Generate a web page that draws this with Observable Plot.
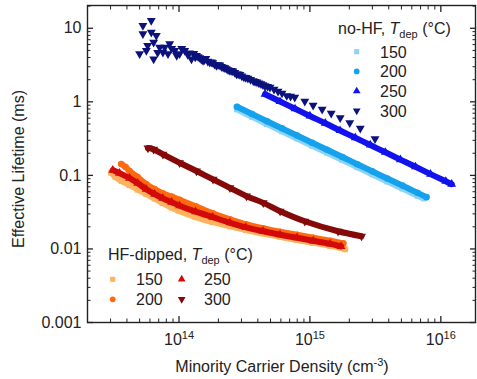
<!DOCTYPE html>
<html><head><meta charset="utf-8">
<script src="https://cdn.jsdelivr.net/npm/d3@7"></script>
<script src="https://cdn.jsdelivr.net/npm/@observablehq/plot@0.6"></script>
<style>
html,body{margin:0;padding:0;background:#fff;}
#chart svg{display:block;}
</style></head><body><div id="chart"></div>
<script>
// ---- ticks ----
const xMajor = [1e14, 1e15, 1e16];
const xDecades = [1e13, 1e14, 1e15];
const yMajor = [0.001, 0.01, 0.1, 1, 10];
const yDecades = [0.001, 0.01, 0.1, 1, 10];
const minorMult = [2, 3, 4, 5, 6, 7, 8, 9];

// ---- legend categories ----
const noHFTemps = ["150", "200", "250", "300"];
const hfTemps = ["150", "200", "250", "300"];
const noHFColors = ["#8DD3F8", "#14A2EC", "#1212EE", "#0B127C"];
const hfColors = ["#FFB35E", "#FF6A10", "#D40A0A", "#860909"];

// ---- series: [carrier density (cm^-3), effective lifetime (ms)] ----
const noHF150 = [[2.77e14,0.79],[3.61e14,0.625],[4.70e14,0.497],[6.12e14,0.397],[7.98e14,0.317],[1.04e15,0.253],[1.35e15,0.203],[1.77e15,0.162],[2.30e15,0.129],[3.00e15,0.103],[3.90e15,0.0825],[5.09e15,0.0661],[6.63e15,0.0527],[7.4e15,0.0487]];
const noHF200 = [[2.77e14,0.855],[3.61e14,0.684],[4.70e14,0.545],[6.12e14,0.436],[7.98e14,0.348],[1.04e15,0.278],[1.35e15,0.223],[1.77e15,0.178],[2.30e15,0.142],[3.00e15,0.1134],[3.90e15,0.0907],[5.09e15,0.0726],[6.63e15,0.0579],[7.77e15,0.0506]];
const noHF250 = [[4.54e14,1.27],[5.91e14,1.01],[7.70e14,0.805],[1.00e15,0.642],[1.31e15,0.512],[1.70e15,0.407],[2.22e15,0.325],[2.89e15,0.259],[3.77e15,0.206],[4.91e15,0.164],[6.40e15,0.131],[8.34e15,0.1041],[1.09e16,0.0831],[1.21e16,0.0759]];
const noHF300 = [[5.00e13,4.48],[5.30e13,10.89],[5.30e13,8.39],[5.63e13,4.96],[5.76e13,5.81],[6.14e13,12.74],[6.14e13,8.82],[6.40e13,6.44],[6.40e13,3.82],[6.71e13,7.95],[6.87e13,4.66],[7.11e13,5.51],[7.54e13,4.71],[7.77e13,5.51],[8.24e13,4.48],[8.49e13,6.13],[8.79e13,5.29],[9.27e13,4.96],[9.60e13,4.24],[1.01e14,4.48],[1.05e14,5.29],[1.106e14,4.96],[1.166e14,4.38],[1.20e14,4.62],[1.245e14,3.82],[1.296e14,4.52],[1.33e14,4.05],[1.359e14,4.24],[1.40e14,4.10],[1.441e14,3.98],[1.48e14,3.78],[1.527e14,3.63],[1.56e14,3.72],[1.602e14,3.86],[1.66e14,3.55],[1.719e14,3.44],[1.77e14,3.48],[1.813e14,3.40],[1.87e14,3.22],[1.935e14,3.10],[1.99e14,3.18],[2.051e14,3.15],[2.11e14,3.02],[2.174e14,2.94],[2.24e14,2.90],[2.300e14,2.82],[2.37e14,2.72],[2.446e14,2.65],[2.51e14,2.66],[2.579e14,2.61],[2.67e14,2.50],[2.754e14,2.39],[2.83e14,2.38],[2.919e14,2.34],[3.02e14,2.24],[3.132e14,2.16],[3.24e14,2.13],[3.361e14,2.09],[3.52e14,2.00],[3.690e14,1.93],[3.81e14,1.89],[3.939e14,1.85],[4.08e14,1.80],[4.228e14,1.76],[4.38e14,1.70],[4.537e14,1.65],[4.75e14,1.61],[4.955e14,1.57],[5.318e14,1.48],[5.706e14,1.39],[6.124e14,1.31],[6.653e14,1.21],[7.114e14,1.19],[7.661e14,1.15],[9.14e14,1.016],[1.058e15,0.896],[1.240e15,0.790],[1.454e15,0.697],[1.703e15,0.605],[2.015e15,0.517],[2.425e15,0.435],[3.143e15,0.313]];
const hf150 = [[3.03e13,0.1085],[3.27e13,0.0948],[3.64e13,0.0836],[4.19e13,0.0737],[4.83e13,0.0640],[5.62e13,0.0556],[6.51e13,0.0483],[7.50e13,0.0419],[8.79e13,0.0364],[1.01e14,0.0326],[1.34e14,0.0270],[1.81e14,0.0231],[2.45e14,0.0203],[3.24e14,0.0181],[4.38e14,0.0162],[5.91e14,0.0146],[7.98e14,0.0132],[1.06e15,0.0121],[1.43e15,0.0110],[1.86e15,0.0099]];
const hf200 = [[3.62e13,0.143],[3.91e13,0.130],[4.19e13,0.1145],[4.83e13,0.0948],[5.62e13,0.0761],[6.51e13,0.0650],[7.50e13,0.0573],[8.79e13,0.0514],[1.01e14,0.0467],[1.34e14,0.0381],[1.81e14,0.0306],[2.45e14,0.0253],[3.24e14,0.0217],[4.38e14,0.0191],[5.91e14,0.0171],[7.98e14,0.0156],[1.06e15,0.0142],[1.43e15,0.0129],[1.80e15,0.0119]];
const hf250 = [[3.12e13,0.118],[3.51e13,0.1075],[4.19e13,0.0919],[4.83e13,0.0785],[5.62e13,0.0650],[6.51e13,0.0556],[7.50e13,0.0490],[8.79e13,0.0432],[1.01e14,0.0387],[1.34e14,0.0321],[1.81e14,0.0270],[2.45e14,0.0227],[3.24e14,0.0197],[4.38e14,0.0174],[5.91e14,0.0156],[7.98e14,0.0142],[1.06e15,0.0129],[1.43e15,0.0117],[1.73e15,0.0108]];
const hf300 = [[5.79e13,0.235],[6.40e13,0.226],[7.54e13,0.193],[1.01e14,0.1485],[1.36e14,0.1145],[1.82e14,0.0882],[2.45e14,0.0677],[3.28e14,0.0522],[4.40e14,0.0423],[5.92e14,0.0326],[9.14e14,0.0238],[1.64e15,0.0174],[2.48e15,0.0149]];

// custom downward triangle
const sqrt3 = Math.sqrt(3);
const triangleDown = {
  draw(context, size) {
    const y = -Math.sqrt(size / (sqrt3 * 3));
    context.moveTo(0, -y * 2);
    context.lineTo(-sqrt3 * y, y);
    context.lineTo(sqrt3 * y, y);
    context.closePath();
  }
};
const symbols = ["square", "circle", "triangle", triangleDown];
const d3symbols = [d3.symbolSquare, d3.symbolCircle, d3.symbolTriangle, triangleDown];

const series = [
  {data: hf150, color: hfColors[0], symbol: symbols[0], line: true},
  {data: hf200, color: hfColors[1], symbol: symbols[1], line: true},
  {data: hf250, color: hfColors[2], symbol: symbols[2], line: true},
  {data: hf300, color: hfColors[3], symbol: symbols[3], line: true},
  {data: noHF150, color: noHFColors[0], symbol: symbols[0], line: true},
  {data: noHF200, color: noHFColors[1], symbol: symbols[1], line: true},
  {data: noHF250, color: noHFColors[2], symbol: symbols[2], line: true},
  {data: noHF300, color: noHFColors[3], symbol: symbols[3], line: false}
];

const xMinor = xDecades.flatMap(d => minorMult.map(m => d * m));
const yMinor = yDecades.flatMap(d => minorMult.map(m => d * m)).filter(v => v <= 20);

const ink = "#222";
const marks = [];
for (const s of series) {
  const rows = s.data.map(([N, tau]) => ({N, tau}));
  if (s.line) marks.push(Plot.line(rows, {x: "N", y: "tau", stroke: s.color, strokeWidth: 6, curve: "catmull-rom"}));
  marks.push(Plot.dot(rows, {x: "N", y: "tau", fill: s.color, symbol: s.symbol, r: 3.3}));
}

const chart = Plot.plot({
  width: 477, height: 379,
  marginLeft: 87, marginRight: 2, marginTop: 5, marginBottom: 57,
  x: {type: "log", domain: [2e13, 1.84e16]},
  y: {type: "log", domain: [0.001, 20.4]},
  style: {fontFamily: "'Liberation Sans', Arial, sans-serif", fontSize: "16px", color: ink, background: "#fff"},
  marks: [
    ...marks,
    Plot.frame({stroke: ink, strokeWidth: 1.4}),
    // bottom
    Plot.axisX({ticks: xMajor, tickSize: 0, tickPadding: 11, tickFormat: d => "10^" + Math.round(Math.log10(d)), label: null}),
    Plot.axisX({ticks: xMajor, tickSize: -6, fill: "none", label: null, stroke: ink, strokeWidth: 1.3}),
    Plot.axisX({ticks: xMinor, tickSize: -3.5, fill: "none", label: null, stroke: ink}),
    // top
    Plot.axisX({anchor: "top", ticks: xMajor, tickSize: -6, fill: "none", label: null, stroke: ink, strokeWidth: 1.3}),
    Plot.axisX({anchor: "top", ticks: xMinor, tickSize: -3.5, fill: "none", label: null, stroke: ink}),
    // left
    Plot.axisY({ticks: yMajor, tickSize: 0, tickPadding: 6, tickFormat: d => String(d), label: null}),
    Plot.axisY({ticks: yMajor, tickSize: -6, fill: "none", label: null, stroke: ink, strokeWidth: 1.3}),
    Plot.axisY({ticks: yMinor, tickSize: -3.5, fill: "none", label: null, stroke: ink}),
    // right
    Plot.axisY({anchor: "right", ticks: yMajor, tickSize: -6, fill: "none", label: null, stroke: ink, strokeWidth: 1.3}),
    Plot.axisY({anchor: "right", ticks: yMinor, tickSize: -3.5, fill: "none", label: null, stroke: ink})
  ]
});
document.getElementById("chart").appendChild(chart);

const svg = d3.select(chart);
// superscript exponents on x tick labels
svg.selectAll('g[aria-label="x-axis tick label"] text').each(function() {
  const parts = this.textContent.split("^");
  if (parts.length !== 2) return;
  const sel = d3.select(this);
  sel.text(parts[0]);
  sel.append("tspan").attr("dy", "-0.5em").attr("font-size", "11px").text(parts[1]);
});

const g = svg.append("g").attr("fill", ink).attr("font-size", 16).attr("text-anchor", "start")
  .attr("font-family", "'Liberation Sans', Arial, sans-serif");

// axis titles
g.append("text").attr("transform", "translate(24,169) rotate(-90)").attr("text-anchor", "middle")
  .text("Effective Lifetime (ms)");
const xl = g.append("text").attr("x", 282).attr("y", 372).attr("text-anchor", "middle");
xl.append("tspan").text("Minority Carrier Density (cm");
xl.append("tspan").attr("dy", -6).attr("font-size", 11).text("-3");
xl.append("tspan").attr("dy", 6).text(")");

function legendTitle(x, y, lead) {
  const t = g.append("text").attr("x", x).attr("y", y);
  t.append("tspan").text(lead);
  t.append("tspan").attr("font-style", "italic").text("T");
  t.append("tspan").attr("dy", 4).attr("font-size", 11).text("dep");
  t.append("tspan").attr("dy", -4).text(" (\u00B0C)");
}
function legendItem(x, y, color, sym, label, tx) {
  g.append("path").attr("transform", `translate(${x},${y})`)
    .attr("d", d3.symbol(sym, 26)()).attr("fill", color);
  g.append("text").attr("x", tx).attr("y", y + 5.8).text(label);
}
legendTitle(338, 34, "no-HF, ");
noHFTemps.forEach((t, i) => legendItem(356.7, 51.7 + i * 19.7, noHFColors[i], d3symbols[i], t, 380));
legendTitle(108, 260, "HF-dipped, ");
// two columns: 150/200 then 250/300
hfTemps.forEach((t, i) => {
  const col = Math.floor(i / 2), row = i % 2;
  legendItem(112.7 + col * 69, 279.3 + row * 20, hfColors[i], d3symbols[i], t, 136 + col * 68);
});
</script></body></html>
